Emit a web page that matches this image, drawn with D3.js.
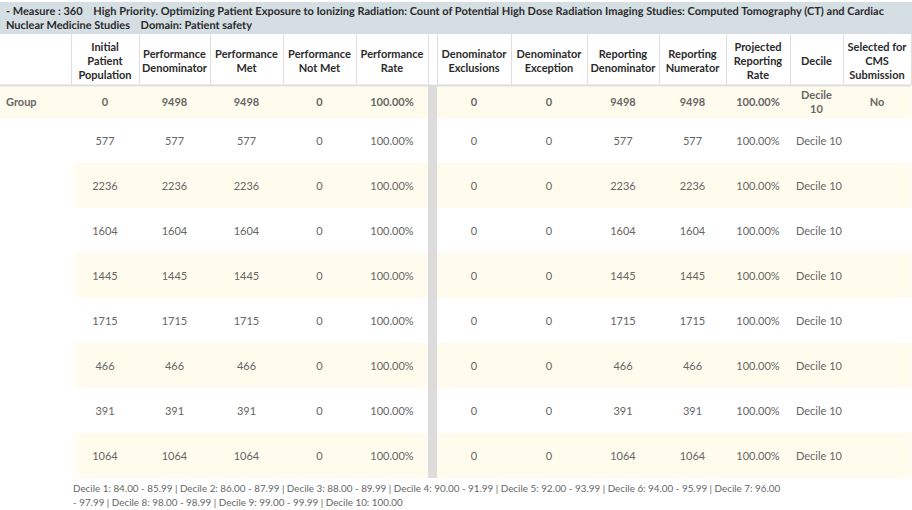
<!DOCTYPE html>
<html><head><meta charset="utf-8">
<script src="https://cdn.jsdelivr.net/npm/d3@7"></script>
<style>
html,body{margin:0;padding:0;background:#fff;}
svg{display:block;font-family:Lato,"Noto Sans",sans-serif;}
</style></head>
<body>
<svg id="c" width="912" height="510"></svg>
<script>
// ---- data ----
const titleLines = [
  "- Measure : 360\u00a0\u00a0\u00a0\u00a0High Priority. Optimizing Patient Exposure to Ionizing Radiation: Count of Potential High Dose Radiation Imaging Studies: Computed Tomography (CT) and Cardiac",
  "Nuclear Medicine Studies\u00a0\u00a0\u00a0\u00a0Domain: Patient safety"
];
const headers = [
  [""],
  ["Initial","Patient","Population"],
  ["Performance","Denominator"],
  ["Performance","Met"],
  ["Performance","Not Met"],
  ["Performance","Rate"],
  null,
  ["Denominator","Exclusions"],
  ["Denominator","Exception"],
  ["Reporting","Denominator"],
  ["Reporting","Numerator"],
  ["Projected","Reporting","Rate"],
  ["Decile"],
  ["Selected for","CMS","Submission"]
];
const groupRow = ["Group","0","9498","9498","0","100.00%",null,"0","0","9498","9498","100.00%",["Decile","10"],"No"];
const initialPop   = [577,2236,1604,1445,1715,466,391,1064];
const perfDenom    = [577,2236,1604,1445,1715,466,391,1064];
const perfMet      = [577,2236,1604,1445,1715,466,391,1064];
const perfNotMet   = [0,0,0,0,0,0,0,0];
const perfRate     = ["100.00%","100.00%","100.00%","100.00%","100.00%","100.00%","100.00%","100.00%"];
const denomExcl    = [0,0,0,0,0,0,0,0];
const denomExc     = [0,0,0,0,0,0,0,0];
const repDenom     = [577,2236,1604,1445,1715,466,391,1064];
const repNum       = [577,2236,1604,1445,1715,466,391,1064];
const projRate     = ["100.00%","100.00%","100.00%","100.00%","100.00%","100.00%","100.00%","100.00%"];
const decile       = ["Decile 10","Decile 10","Decile 10","Decile 10","Decile 10","Decile 10","Decile 10","Decile 10"];
const selected     = ["","","","","","","",""];
const footerLines = [
  "Decile 1: 84.00 - 85.99 | Decile 2: 86.00 - 87.99 | Decile 3: 88.00 - 89.99 | Decile 4: 90.00 - 91.99 | Decile 5: 92.00 - 93.99 | Decile 6: 94.00 - 95.99 | Decile 7: 96.00",
  "- 97.99 | Decile 8: 98.00 - 98.99 | Decile 9: 99.00 - 99.99 | Decile 10: 100.00"
];

// ---- layout ----
const colEdges = [0,71,139,210,283,356,428,437,511,587,659,726,790,843,911];
const svg = d3.select("#c");
const N = initialPop.length;
const rows = d3.range(N).map(i => ["", initialPop[i], perfDenom[i], perfMet[i], perfNotMet[i], perfRate[i], null,
  denomExcl[i], denomExc[i], repDenom[i], repNum[i], projRate[i], decile[i], selected[i]]);

const titleTop = 2, headTop = 34, headBot = 85, groupBot = 118, rowH = 45;
const yRows = d3.scaleBand().domain(d3.range(N)).range([groupBot, groupBot + rowH*N]).padding(0);
const cols = d3.range(colEdges.length-1);
const cx = i => (colEdges[i]+colEdges[i+1])/2;
const yellow = "#fffcee";

// title bar
svg.append("rect").attr("x",0).attr("y",titleTop).attr("width",912).attr("height",headTop-titleTop).attr("fill","#d4dee3");
svg.selectAll("text.title").data(titleLines).join("text")
  .attr("class","title")
  .attr("x",6).attr("y",(d,i)=>15+i*14)
  .attr("font-size",11).attr("font-weight","bold").attr("fill","#2b2b2b")
  .attr("text-rendering","geometricPrecision")
  .attr("textLength",(d,i)=> i===0 ? 878 : 246)
  .attr("lengthAdjust","spacing")
  .text(d=>d);

// group row bg
svg.append("rect").attr("x",0).attr("y",headBot).attr("width",911).attr("height",groupBot-headBot).attr("fill",yellow);
// data row bg
const defs = svg.append("defs");
const g = defs.append("linearGradient").attr("id","fade").attr("x1","0").attr("x2","1");
g.append("stop").attr("offset","0").attr("stop-color","#fff");
g.append("stop").attr("offset","0.85").attr("stop-color","#fff");
g.append("stop").attr("offset","1").attr("stop-color",yellow);
svg.selectAll("rect.row").data(d3.range(N)).join("rect")
  .attr("x",0).attr("y",i=>yRows(i)).attr("width",911).attr("height",yRows.bandwidth())
  .attr("fill",i=> i%2===1 ? yellow : "#fff");
svg.selectAll("rect.fade").data(d3.range(N).filter(i=>i%2===1)).join("rect")
  .attr("x",0).attr("y",i=>yRows(i)).attr("width",80).attr("height",yRows.bandwidth())
  .attr("fill","url(#fade)");

// gray separator band
svg.append("rect").attr("x",colEdges[6]).attr("y",headBot).attr("width",colEdges[7]-colEdges[6])
  .attr("height",groupBot + rowH*N - headBot).attr("fill","#dcdcdc");

// header borders
svg.selectAll("line.vh").data(colEdges.slice(1,-1)).join("line")
  .attr("x1",d=>d+0.5).attr("x2",d=>d+0.5).attr("y1",headTop).attr("y2",headBot)
  .attr("stroke","#dedede").attr("stroke-width",1);
svg.append("line").attr("x1",0).attr("x2",911).attr("y1",headBot+0.5).attr("y2",headBot+0.5)
  .attr("stroke","#dedede").attr("stroke-width",2);
svg.append("line").attr("x1",911.5).attr("x2",911.5).attr("y1",headTop).attr("y2",headBot).attr("stroke","#dedede");

// header text
cols.forEach(c => {
  const lines = headers[c];
  if (!lines) return;
  const n = lines.length;
  const mid = (headTop+headBot)/2 + 1;
  svg.append("text").attr("text-anchor","middle").attr("font-size",11).attr("font-weight","bold").attr("fill","#2b2b2b")
    .selectAll("tspan").data(lines).join("tspan")
    .attr("x",cx(c)).attr("y",(d,i)=> mid + (i-(n-1)/2)*14 + 4)
    .text(d=>d);
});

// group row text
groupRow.forEach((v,c) => {
  if (v===null) return;
  const mid = (headBot+groupBot)/2;
  const t = svg.append("text").attr("font-size",11).attr("font-weight","bold").attr("fill","#666")
    .attr("text-anchor", c===0 ? "start" : "middle");
  const lines = Array.isArray(v) ? v : [v];
  t.selectAll("tspan").data(lines).join("tspan")
    .attr("x", c===0 ? 6 : cx(c))
    .attr("y",(d,i)=> mid + (i-(lines.length-1)/2)*14 + 4)
    .text(d=>d);
});

// data rows text
rows.forEach((r,i) => {
  const mid = yRows(i) + yRows.bandwidth()/2;
  r.forEach((v,c) => {
    if (v===null || v==="" ) return;
    svg.append("text").attr("font-size",11).attr("fill","#666")
      .attr("text-anchor", c===12 ? "start" : "middle")
      .attr("x", c===12 ? colEdges[c]+6 : cx(c)).attr("y", mid+4)
      .text(v);
  });
});

// footer
svg.selectAll("text.foot").data(footerLines).join("text")
  .attr("x",73).attr("y",(d,i)=>492+i*13.5)
  .attr("font-size",9.85).attr("fill","#666")
  .text(d=>d);
</script>
</body></html>
